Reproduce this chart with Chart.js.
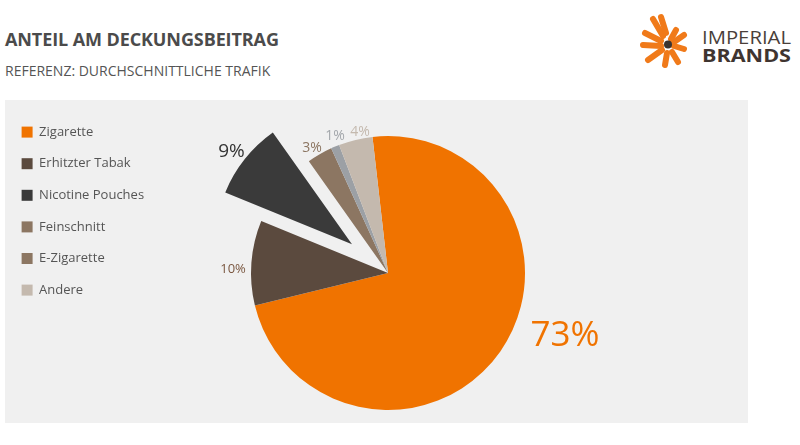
<!DOCTYPE html>
<html>
<head>
<meta charset="utf-8">
<script src="https://cdn.jsdelivr.net/npm/chart.js@4.4.0/dist/chart.umd.min.js"></script>
<style>
  html, body { margin: 0; padding: 0; background: #ffffff; width: 800px; height: 445px; overflow: hidden; }
  body { position: relative; font-family: "Open Sans", sans-serif; }
  #title { position: absolute; left: 5px; top: 27px; font-size: 18px; font-weight: 700; color: #4b4b4b; white-space: nowrap; letter-spacing: -0.1px; }
  #subtitle { position: absolute; left: 5px; top: 61px; font-size: 14px; color: #555555; white-space: nowrap; }
  #panel { position: absolute; left: 5px; top: 100px; width: 743px; height: 323px; background: #f0f0f0; }
  #wrap { position: absolute; left: 0; top: 107px; width: 773px; height: 338px; }
  #logo { position: absolute; left: 630px; top: 8px; }
</style>
</head>
<body>
<div id="title">ANTEIL AM DECKUNGSBEITRAG</div>
<div id="subtitle">REFERENZ: DURCHSCHNITTLICHE TRAFIK</div>
<svg id="logo" width="170" height="70" viewBox="630 8 170 70">
  <g stroke="#f07a1a" stroke-width="6" stroke-linecap="round">
    <line x1="653" y1="19" x2="663" y2="36"/>
    <line x1="661" y1="17" x2="666" y2="33"/>
    <line x1="645" y1="33" x2="661" y2="41"/>
    <line x1="643" y1="45" x2="661" y2="46"/>
    <line x1="648" y1="60" x2="662" y2="50"/>
    <line x1="665" y1="65" x2="667" y2="53"/>
    <line x1="678" y1="62" x2="672" y2="52"/>
    <line x1="684" y1="49" x2="674" y2="46"/>
    <line x1="684" y1="35" x2="674" y2="42"/>
    <line x1="676" y1="30" x2="671" y2="39"/>
  </g>
  <circle cx="668" cy="44.5" r="4" fill="#3a3330"/>
  <text x="702" y="43.5" font-family="Open Sans" font-size="18" fill="#4a3f3a" textLength="89" lengthAdjust="spacingAndGlyphs">IMPERIAL</text>
  <text x="702" y="61.5" font-family="Open Sans" font-weight="700" font-size="18.5" fill="#3f3430" textLength="89" lengthAdjust="spacingAndGlyphs">BRANDS</text>
</svg>
<div id="panel"></div>
<div id="wrap"><canvas id="c"></canvas></div>
<script>
const categories = ["Zigarette", "Erhitzter Tabak", "Nicotine Pouches", "Feinschnitt", "E-Zigarette", "Andere"];
const shares = [73, 10, 9, 3, 1, 4];
const valueLabels = ["73%", "10%", "9%", "3%", "1%", "4%"];
const sliceColors = ["#f07300", "#5b4a3e", "#3a3a3a", "#8c7662", "#9ca0a5", "#c4b9ae"];
const legendColors = ["#f07300", "#5b4a3e", "#3a3a3a", "#8c7662", "#8c7662", "#c4b9ae"];
const labelColors = ["#f07300", "#7a5740", "#333333", "#8c7662", "#a3a7ab", "#c4b9ae"];

// style: exploded slice distance and label placement relative to pie centre
const explodeIndex = 2;
const explodeDistance = 46;
const labelStyle = [
  { dx: 177, dy: 60, size: 35 },
  { dx: -155, dy: -4.5, size: 13 },
  { dx: -156.5, dy: -122.5, size: 19 },
  { dx: -76, dy: -126, size: 14 },
  { dx: -53, dy: -138, size: 14 },
  { dx: -28, dy: -142, size: 14 }
];

const explodePlugin = {
  id: 'explodeSlice',
  afterDatasetsUpdate(chart) {
    const arc = chart.getDatasetMeta(0).data[explodeIndex];
    if (!arc) return;
    const mid = (arc.startAngle + arc.endAngle) / 2;
    arc.x += Math.cos(mid) * explodeDistance;
    arc.y += Math.sin(mid) * explodeDistance;
  }
};

const labelPlugin = {
  id: 'sliceLabels',
  afterDatasetsDraw(chart) {
    const ctx = chart.ctx;
    const meta = chart.getDatasetMeta(0);
    const cx = meta.data[0].x, cy = meta.data[0].y;
    ctx.save();
    meta.data.forEach((arc, i) => {
      const s = labelStyle[i];
      ctx.font = s.size + 'px "Open Sans"';
      ctx.fillStyle = labelColors[i];
      ctx.textAlign = 'center';
      ctx.textBaseline = 'alphabetic';
      ctx.fillText(valueLabels[i], cx + s.dx, cy + s.dy + s.size * 0.36);
    });
    ctx.restore();
  }
};

new Chart(document.getElementById('c'), {
  type: 'pie',
  data: {
    labels: categories,
    datasets: [{
      data: shares,
      backgroundColor: sliceColors,
      borderWidth: 0,
      hoverOffset: 0
    }]
  },
  options: {
    responsive: true,
    maintainAspectRatio: false,
    animation: false,
    events: [],
    rotation: -6.5,
    radius: 137,
    layout: { padding: { left: 3, right: 0, top: 0, bottom: 6 } },
    plugins: {
      tooltip: { enabled: false },
      legend: {
        position: 'chartArea',
        align: 'start',
        labels: {
          boxWidth: 11,
          boxHeight: 11,
          padding: 18.6,
          color: '#555555',
          font: { family: 'Open Sans', size: 13 },
          generateLabels(chart) {
            const items = Chart.overrides.pie.plugins.legend.labels.generateLabels(chart);
            items.forEach((it, i) => { it.fillStyle = legendColors[i]; it.strokeStyle = legendColors[i]; it.lineWidth = 0; });
            return items;
          }
        }
      }
    }
  },
  plugins: [explodePlugin, labelPlugin]
});
</script>
</body>
</html>
